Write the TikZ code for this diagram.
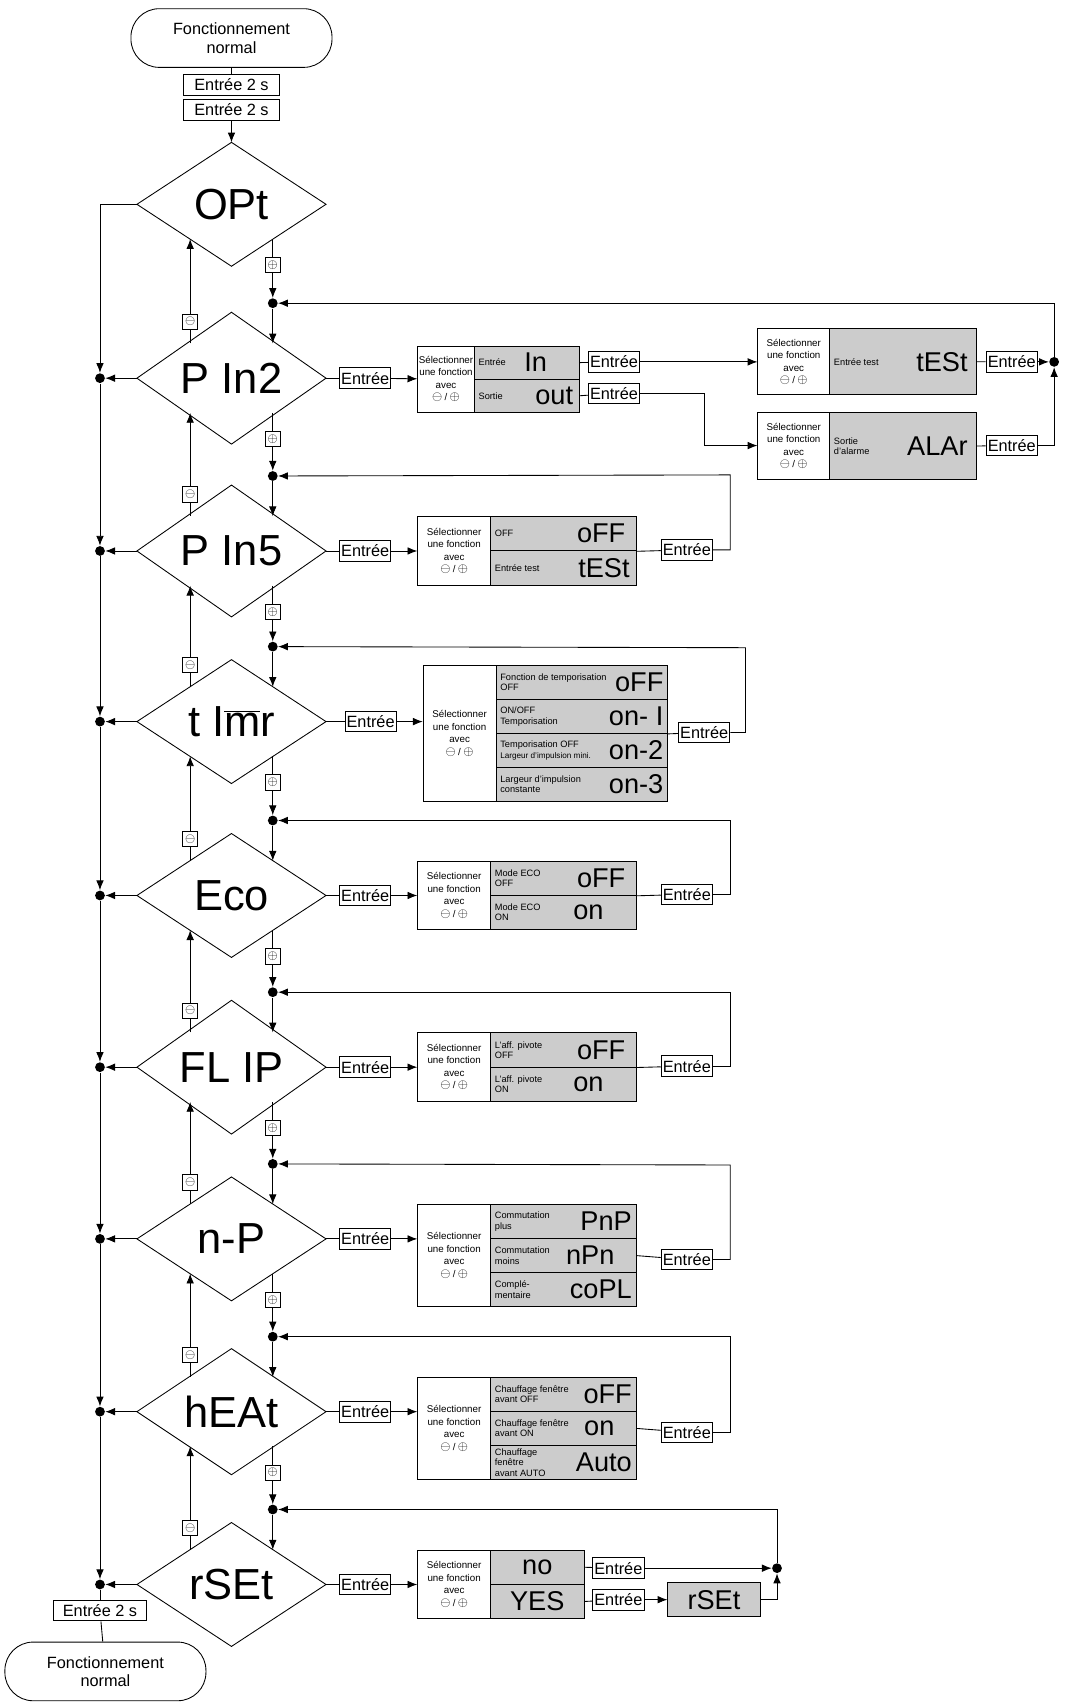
\documentclass[tikz,border=0pt]{standalone}
\usepackage{fontspec}
\setmainfont{Liberation Sans}
\usetikzlibrary{positioning, shapes.geometric, arrows.meta, calc}
\newcommand\selpm{{\fontsize{13}{13}\selectfont$\ominus$\,{\fontsize{9}{9}\selectfont/}\,$\oplus$}}
\tikzset{
  term/.style={draw, rounded corners=26pt, minimum width=185pt, minimum height=54pt,
    align=center, font=\fontsize{15}{17}\selectfont},
  diam/.style={draw, diamond, minimum width=174pt, minimum height=114pt, inner sep=0,
    outer sep=0, font=\fontsize{40}{40}\selectfont},
  lbl/.style={draw, fill=white, inner sep=1.5pt, minimum height=19pt,
    font=\fontsize{15}{15}\selectfont},
  sgn/.style={draw, fill=white, inner sep=0.5pt, minimum size=14pt, font=\fontsize{13}{13}\selectfont},
  dot/.style={circle, fill, inner sep=0, minimum size=9pt},
  selc/.style={draw, fill=white, anchor=north west, align=center, inner sep=1pt,
    font=\fontsize{9}{11.5}\selectfont},
  cell/.style={draw, fill=black!20, anchor=north west, inner sep=0},
  desc/.style={anchor=west, align=left, inner sep=0, font=\fontsize{8.5}{9.5}\selectfont},
  seg/.style={anchor=east, inner sep=0, font=\fontsize{25}{25}\selectfont},
  segbox/.style={draw, fill=black!20, inner sep=0, font=\fontsize{25}{25}\selectfont}
}
\begin{document}
\begin{tikzpicture}[x=1pt, y=-1pt, line width=0.8pt, >={Latex[width=7pt,length=9pt]}]
\useasboundingbox (0,0) rectangle (980,1568);

% start
\node [term] (start) at (213,35) {Fonctionnement\\normal};
\node [lbl, minimum width=88pt] (e1) at (213,78) {Entrée 2 s};
\node [lbl, minimum width=88pt] (e2) at (213,101) {Entrée 2 s};
\draw (start) -- (e1);

% menu diamonds
\foreach \n/\t/\y in {opt/OPt/188, pin2/P In2/348, pin5/P In5/507, timr/t I$\overline{\mbox{m}}$r/664,
    eco/Eco/824, flip/FL IP/982, np/n-P/1140, heat/hEAt/1299, rset/rSEt/1458}
  \node [diam] (\n) at (213,\y) {\t};
\draw [->] (e2) -- (opt);

% left return spine
\draw (opt.west) -- (92,188) coordinate (l-opt);
\foreach \n/\y in {pin2/348, pin5/507, timr/664, eco/824, flip/982, np/1140, heat/1299, rset/1458} {
  \node [dot] (l-\n) at (92,\y) {};
  \draw [->] (\n.west) -- (l-\n);
}
\foreach \a/\b in {opt/pin2, pin2/pin5, pin5/timr, timr/eco, eco/flip, flip/np, np/heat, heat/rset}
  \draw [->] (l-\a) -- (l-\b);
\node [lbl, minimum width=86pt] (e3) at (92,1482) {Entrée 2 s};
\node [term] (stop) at (97,1538) {Fonctionnement\\normal};
\draw (l-rset) -- (e3);
\draw (e3) -- (stop);

% plus / minus steps
\foreach \a/\b in {opt/pin2, pin2/pin5, pin5/timr, timr/eco, eco/flip, flip/np, np/heat, heat/rset} {
  \node [sgn] (p-\a) at ($(\a.center)+(38,56)$) {$\oplus$};
  \node [dot] (j-\b) at ($(\b.center)+(38,-69)$) {};
  \draw ($(\a.center)+(38,32)$) -- (p-\a);
  \draw [->] (p-\a) -- (j-\b);
  \draw [->] (j-\b) -- ($(\b.center)+(38,-32)$);
  \node [sgn] (m-\b) at ($(\b.center)+(-38,-52)$) {$\ominus$};
  \draw ($(\b.center)+(-38,-32)$) -- (m-\b);
  \draw [->] (m-\b) -- ($(\a.center)+(-38,32)$);
}

% P In2
\node [lbl] (in-pin2) at (336,348) {Entrée};
\node [selc, minimum width=52pt, minimum height=61pt] (s-pin2) at (384,318) {Sélectionner\\une fonction\\avec\\\selpm};
\node [cell, minimum width=97pt, minimum height=30.5pt] (pin2a) at (436,318) {};
\node [cell, minimum width=97pt, minimum height=30.5pt] (pin2b) at (436,348.5) {};
\node [desc] at ($(pin2a.west)+(4,0)$) {Entrée};
\node [seg] at ($(pin2a.east)+(-30,0)$) {In};
\node [desc] at ($(pin2b.west)+(4,0)$) {Sortie};
\node [seg] at ($(pin2b.east)+(-6,0)$) {out};
\draw (pin2.east) -- (in-pin2);
\draw [->] (in-pin2) -- (s-pin2);
\node [lbl] (in-pin2a) at (565,333) {Entrée};
\node [lbl] (in-pin2b) at (565,362) {Entrée};
\draw (pin2a.east) -- (in-pin2a);
\draw (pin2b.east) -- (in-pin2b);

\node [selc, minimum width=66pt, minimum height=61pt] (s-test) at (697,302) {Sélectionner\\une fonction\\avec\\\selpm};
\node [cell, minimum width=135pt, minimum height=61pt] (test) at (763,302) {};
\node [desc] at ($(test.west)+(4,0)$) {Entrée test};
\node [seg] at ($(test.east)+(-8,0)$) {tESt};
\node [selc, minimum width=66pt, minimum height=62pt] (s-alar) at (697,379) {Sélectionner\\une fonction\\avec\\\selpm};
\node [cell, minimum width=135pt, minimum height=62pt] (alar) at (763,379) {};
\node [desc] at ($(alar.west)+(4,0)$) {Sortie\\d'alarme};
\node [seg] at ($(alar.east)+(-8,0)$) {ALAr};
\draw [->] (in-pin2a) -- (s-test.west |- in-pin2a);
\draw [->] (in-pin2b) -| (648,410) -- (s-alar.west |- 0,410);
\node [lbl] (in-test) at (931,333) {Entrée};
\node [lbl] (in-alar) at (931,410) {Entrée};
\node [dot] (k-pin2) at (970,333) {};
\draw (test.east) -- (in-test);
\draw (alar.east) -- (in-alar);
\draw [->] (in-test) -- (k-pin2);
\draw [->] (in-alar) -| (k-pin2);
\draw [->] (k-pin2) |- (j-pin2);

% P In5
\node [lbl] (in-pin5) at (336,507) {Entrée};
\node [selc, minimum width=67pt, minimum height=63pt] (s-pin5) at (384,475) {Sélectionner\\une fonction\\avec\\\selpm};
\node [cell, minimum width=134pt, minimum height=31.5pt] (pin5a) at (451,475) {};
\node [cell, minimum width=134pt, minimum height=31.5pt] (pin5b) at (451,506.5) {};
\node [desc] at ($(pin5a.west)+(4,0)$) {OFF};
\node [seg] at ($(pin5a.east)+(-10,0)$) {oFF};
\node [desc] at ($(pin5b.west)+(4,0)$) {Entrée test};
\node [seg] at ($(pin5b.east)+(-6,0)$) {tESt};
\draw (pin5.east) -- (in-pin5);
\draw [->] (in-pin5) -- (s-pin5.west |- in-pin5);
\node [lbl] (out-pin5) at (632,506) {Entrée};
\draw (pin5a.south east) -- (out-pin5);
\draw [->] (out-pin5) -| (672,437) -- (j-pin5);

% t Imr
\node [lbl] (in-timr) at (341,664) {Entrée};
\node [selc, minimum width=67pt, minimum height=125pt] (s-timr) at (389,612) {Sélectionner\\une fonction\\avec\\\selpm};
\foreach \r/\d/\s [count=\i from 0] in {a/{Fonction de temporisation\\OFF}/oFF, b/{ON/OFF\\Temporisation}/on- I,
    c/{Temporisation OFF\\{\fontsize{7.5}{8}\selectfont Largeur d'impulsion mini.}}/on-2, d/{Largeur d'impulsion\\constante}/on-3} {
  \node [cell, minimum width=158pt, minimum height=31.25pt] (timr\r) at (456,612+31.25*\i) {};
  \node [desc] at ($(timr\r.west)+(4,0)$) {\d};
  \node [seg] at ($(timr\r.east)+(-4,0)$) {\s};
}
\draw (timr.east) -- (in-timr);
\draw [->] (in-timr) -- (s-timr.west |- in-timr);
\node [lbl] (out-timr) at (648,674) {Entrée};
\draw (timrb.south east) -- (out-timr);
\draw [->] (out-timr) -| (686,596) -- (j-timr);

% Eco, FL IP
\foreach \n/\y/\da/\sa/\db/\sb/\t in {eco/824/{Mode ECO\\OFF}/oFF/{Mode ECO\\ON}/on/755,
    flip/982/{L'aff. pivote\\OFF}/oFF/{L'aff. pivote\\ON}/on/913} {
  \node [lbl] (in-\n) at (336,\y) {Entrée};
  \node [selc, minimum width=67pt, minimum height=63pt] (s-\n) at (384,\y-32) {Sélectionner\\une fonction\\avec\\\selpm};
  \node [cell, minimum width=134pt, minimum height=31.5pt] (\n a) at (451,\y-32) {};
  \node [cell, minimum width=134pt, minimum height=31.5pt] (\n b) at (451,\y-0.5) {};
  \node [desc] at ($(\n a.west)+(4,0)$) {\da};
  \node [seg] at ($(\n a.east)+(-10,0)$) {\sa};
  \node [desc] at ($(\n b.west)+(4,0)$) {\db};
  \node [seg] at ($(\n b.east)+(-30,0)$) {\sb};
  \draw (\n.east) -- (in-\n);
  \draw [->] (in-\n) -- (s-\n.west |- in-\n);
  \node [lbl] (out-\n) at (632,\y-1) {Entrée};
  \draw (\n a.south east) -- (out-\n);
  \draw [->] (out-\n) -| (672,\t) -- (j-\n);
}

% n-P, hEAt
\foreach \n/\y/\da/\sa/\db/\sb/\dc/\sc/\t in {np/1140/{Commutation\\plus}/PnP/{Commutation\\moins}/nPn/{Complé-\\mentaire}/coPL/1072,
    heat/1299/{Chauffage fenêtre\\avant OFF}/oFF/{Chauffage fenêtre\\avant ON}/on/{Chauffage\\fenêtre\\avant AUTO}/Auto/1230} {
  \node [lbl] (in-\n) at (336,\y) {Entrée};
  \node [selc, minimum width=67pt, minimum height=94pt] (s-\n) at (384,\y-32) {Sélectionner\\une fonction\\avec\\\selpm};
  \node [cell, minimum width=134pt, minimum height=31.33pt] (\n a) at (451,\y-32) {};
  \node [cell, minimum width=134pt, minimum height=31.33pt] (\n b) at (451,\y-0.67) {};
  \node [cell, minimum width=134pt, minimum height=31.33pt] (\n c) at (451,\y+30.67) {};
  \node [desc] at ($(\n a.west)+(4,0)$) {\da};
  \node [seg] at ($(\n a.east)+(-4,0)$) {\sa};
  \node [desc] at ($(\n b.west)+(4,0)$) {\db};
  \node [seg] at ($(\n b.east)+(-20,0)$) {\sb};
  \node [desc] at ($(\n c.west)+(4,0)$) {\dc};
  \node [seg] at ($(\n c.east)+(-4,0)$) {\sc};
  \draw (\n.east) -- (in-\n);
  \draw [->] (in-\n) -- (s-\n.west |- in-\n);
  \node [lbl] (out-\n) at (632,\y+19) {Entrée};
  \draw (\n b.east) -- (out-\n);
  \draw [->] (out-\n) -| (672,\t) -- (j-\n);
}

% rSEt
\node [lbl] (in-rset) at (336,1458) {Entrée};
\node [selc, minimum width=67pt, minimum height=63pt] (s-rset) at (384,1426) {Sélectionner\\une fonction\\avec\\\selpm};
\node [cell, minimum width=86pt, minimum height=31.5pt, font=\fontsize{25}{25}\selectfont] (rseta) at (451,1426) {no};
\node [cell, minimum width=86pt, minimum height=31.5pt, font=\fontsize{25}{25}\selectfont] (rsetb) at (451,1457.5) {YES};
\draw (rset.east) -- (in-rset);
\draw [->] (in-rset) -- (s-rset.west |- in-rset);
\node [lbl] (out-rseta) at (569,1443) {Entrée};
\node [lbl] (out-rsetb) at (569,1472) {Entrée};
\node [segbox, minimum width=85pt, minimum height=31pt] (done) at (657,1472) {rSEt};
\node [dot] (k-rset) at (715,1443) {};
\draw (rseta.east) -- (out-rseta);
\draw (rsetb.east) -- (out-rsetb);
\draw [->] (out-rseta) -- (k-rset);
\draw [->] (out-rsetb) -- (done);
\draw [->] (done.east) -| (k-rset);
\draw [->] (k-rset) |- (j-rset);

\end{tikzpicture}
\end{document}
